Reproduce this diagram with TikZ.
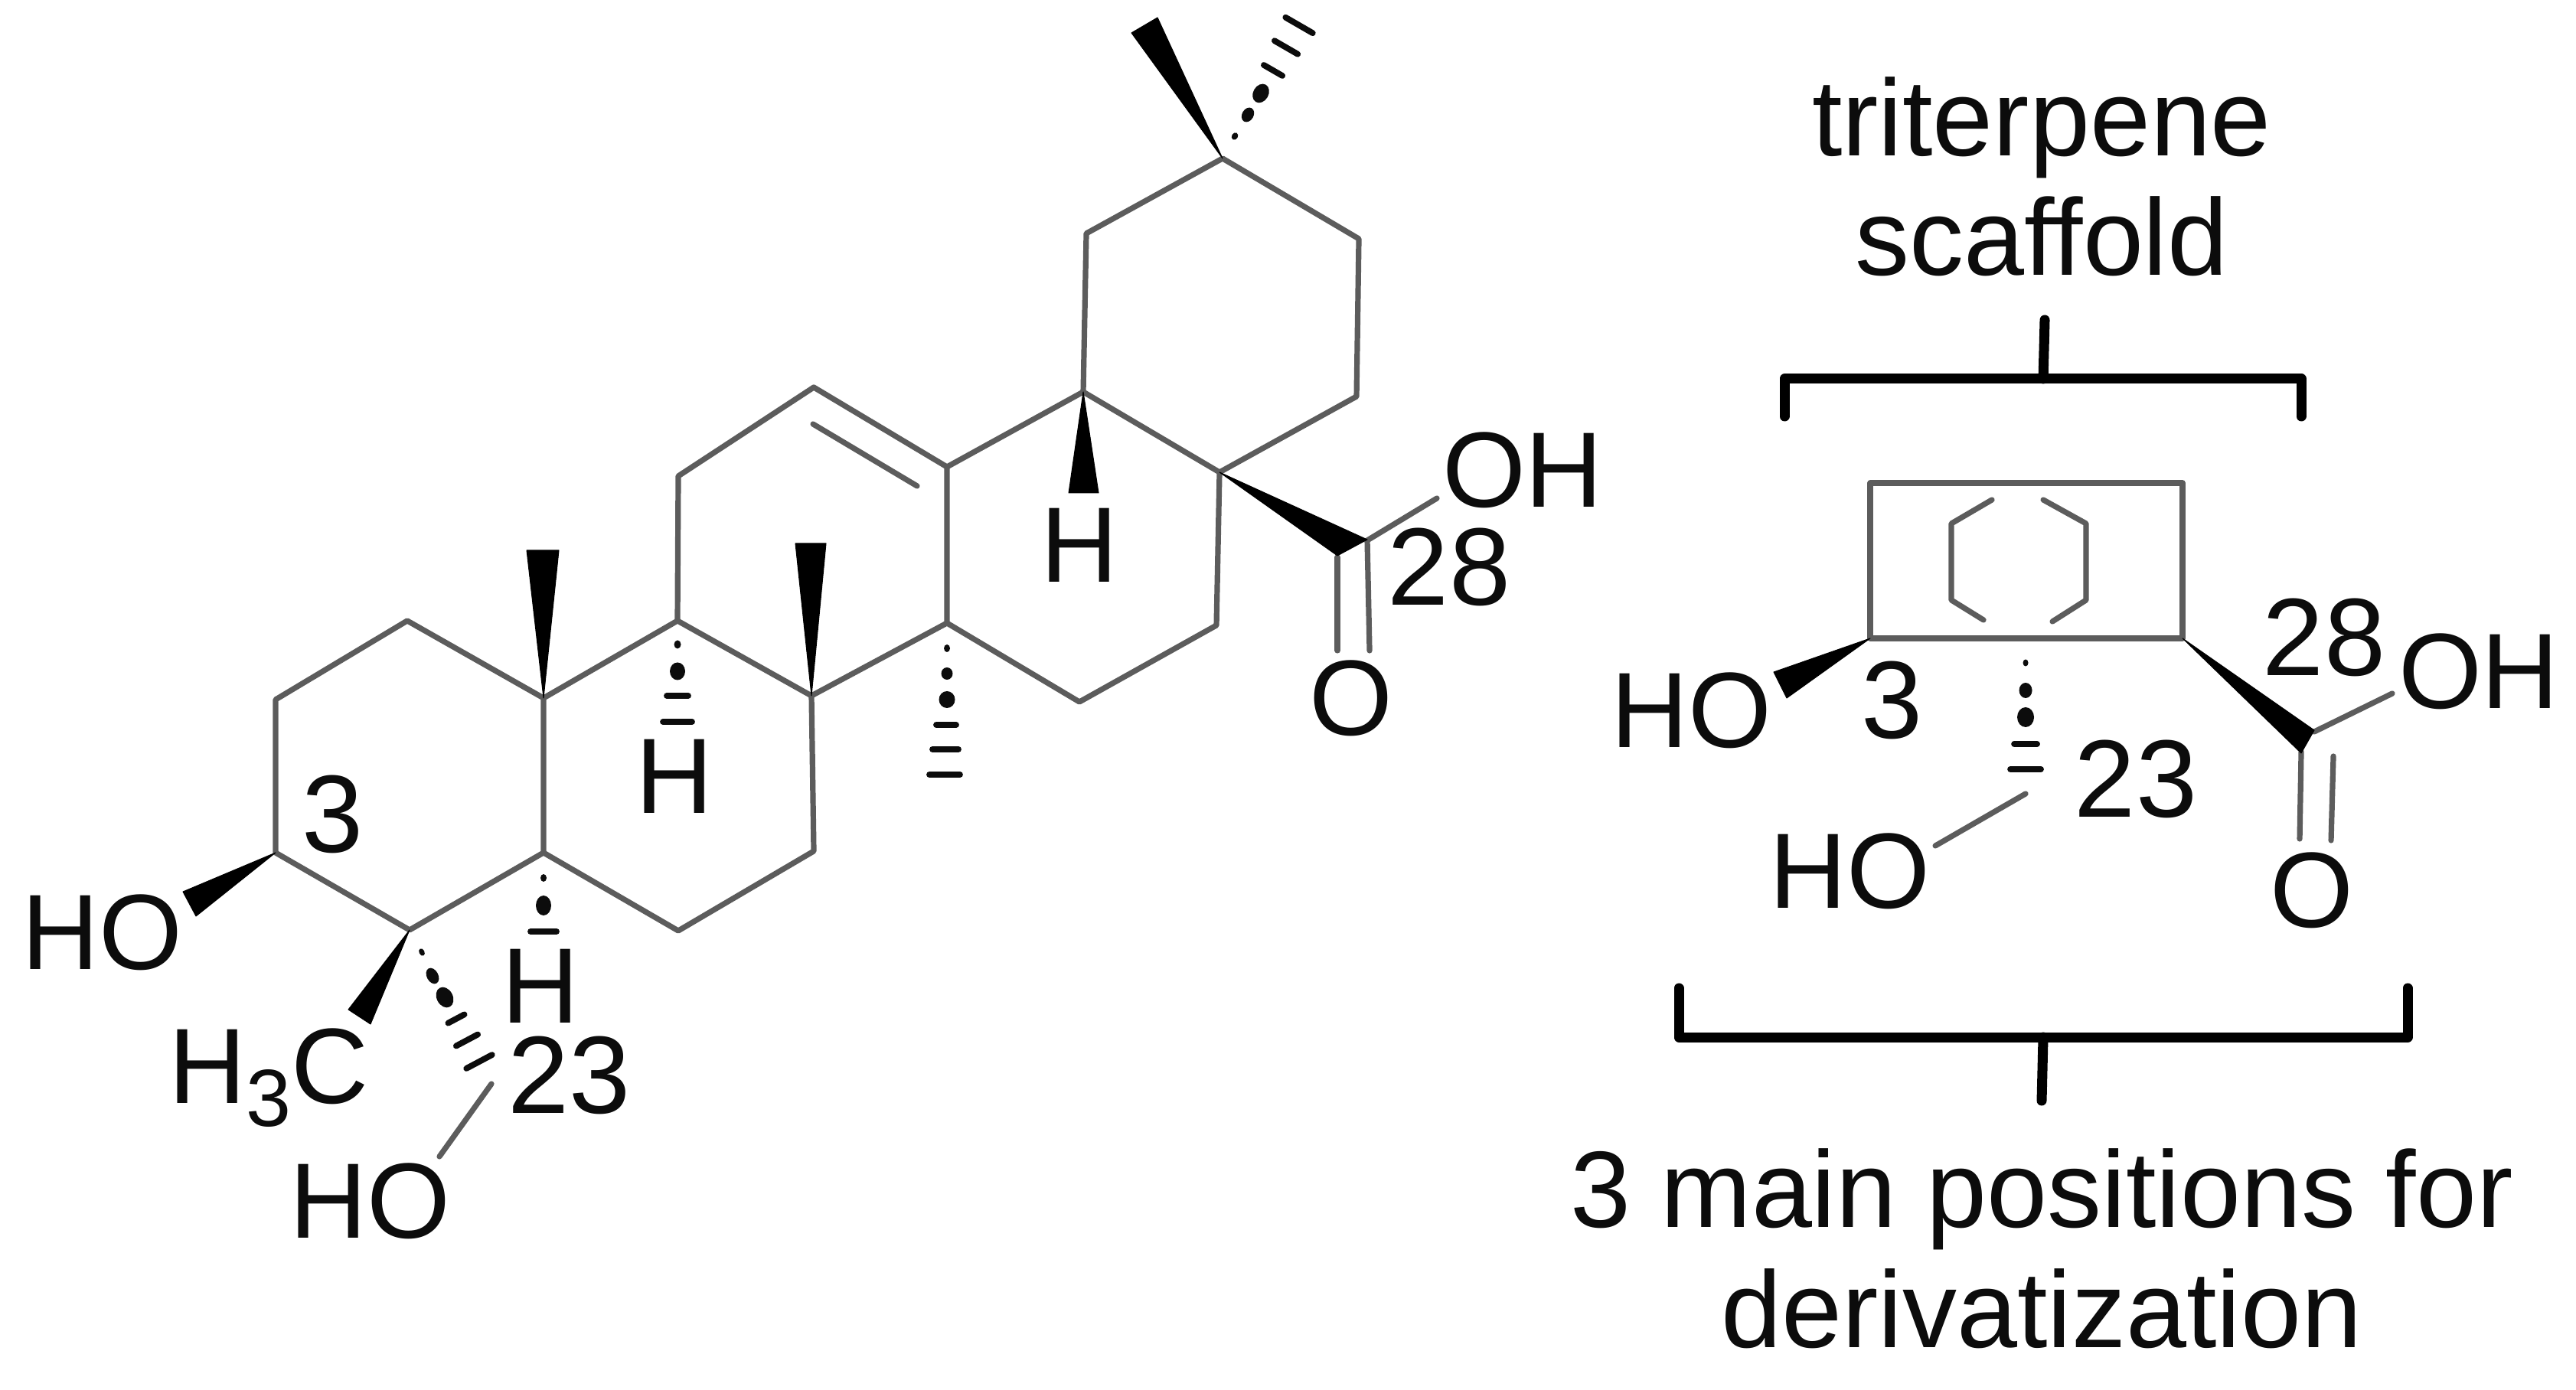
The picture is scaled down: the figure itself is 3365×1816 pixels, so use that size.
\documentclass[tikz,border=0pt]{standalone}
\usepackage{fontspec}
\setmainfont{Liberation Sans}
\definecolor{bondgray}{HTML}{5C5C5C}
\definecolor{inkblack}{HTML}{0C0C0C}
\tikzset{
  bond/.style={draw=bondgray,line width=0.72pt,line join=round,line cap=round},
  wedge/.style={fill=black,draw=black,line width=0.1pt,line join=round},
  hashline/.style={draw=inkblack,line width=0.78pt,line cap=round},
  hashfill/.style={fill=inkblack},
  bracket/.style={draw=black,line width=1.3pt,line join=round,line cap=round},
  atom/.style={inner sep=0pt,outer sep=0pt,anchor=base,text=inkblack,font=\fontsize{14}{16}\selectfont},
  numeral/.style={atom,font=\fontsize{14.4}{16}\selectfont},
  caption/.style={atom,font=\fontsize{14.2}{16}\selectfont},
}
\newcommand\hashdash[4]{\draw[hashline] (#1,#2) +(#3:#4pt) -- +(#3+180:#4pt);}
\newcommand\hashdot[5]{\fill[hashfill,rotate around={#3:(#1,#2)}] (#1,#2) ellipse [x radius=#4pt,y radius=#5pt];}
\begin{document}
\begin{tikzpicture}[x=0.1pt,y=-0.1pt]
\useasboundingbox (0,0) rectangle (3365,1816);
% left skeleton atoms
\coordinate (C1) at (532,811);
\coordinate (C2) at (360,914);
\coordinate (C3) at (360,1114);
\coordinate (C4) at (535,1215);
\coordinate (C5) at (710,1114);
\coordinate (C10) at (710,912);
\coordinate (C6) at (886,1216);
\coordinate (C7) at (1063,1112);
\coordinate (C8) at (1060,909);
\coordinate (C9) at (885,811);
\coordinate (C11) at (886,622);
\coordinate (C12) at (1063,506);
\coordinate (C13) at (1237,610);
\coordinate (C14) at (1237,814);
\coordinate (C15) at (1410,917);
\coordinate (C16) at (1589,817);
\coordinate (C17) at (1593,617);
\coordinate (C18) at (1415,512);
\coordinate (C19) at (1419,305);
\coordinate (C20) at (1597,207);
\coordinate (C21) at (1775,312);
\coordinate (C22) at (1772,518);
\coordinate (C28) at (1786,706);
\coordinate (D1) at (1062,554);
\coordinate (D2) at (1198,635);
\coordinate (C23) at (642,1416);
\coordinate (O23) at (574,1511);
\coordinate (OHe) at (1877,651);
\coordinate (Oa1) at (1747,728);
\coordinate (Oa2) at (1747,850);
\coordinate (Ob2) at (1789,850);
% bonds
\draw[bond] (C1) -- (C2) -- (C3) -- (C4) -- (C5) -- (C10) -- cycle;
\draw[bond] (C5) -- (C6) -- (C7) -- (C8) -- (C9) -- (C10);
\draw[bond] (C9) -- (C11) -- (C12) -- (C13) -- (C14) -- (C8);
\draw[bond] (C14) -- (C15) -- (C16) -- (C17) -- (C18) -- (C13);
\draw[bond] (C18) -- (C19) -- (C20) -- (C21) -- (C22) -- (C17);
\draw[bond] (D1) -- (D2);
\draw[bond] (C23) -- (O23);
\draw[bond] (C28) -- (OHe);
\draw[bond] (C28) -- (Ob2);
\draw[bond] (Oa1) -- (Oa2);
% wedges
\fill[wedge] (C3) -- (239,1165) -- (256,1197) -- cycle;
\fill[wedge] (C4) -- (455,1319) -- (484,1338) -- cycle;
\fill[wedge] (C10) -- (688,719) -- (730,719) -- cycle;
\fill[wedge] (C8) -- (1039,710) -- (1079,710) -- cycle;
\fill[wedge] (C18) -- (1396,644) -- (1435,644) -- cycle;
\fill[wedge] (C17) -- (1747,726) -- (1786,705) -- cycle;
\fill[wedge] (C20) -- (1478,43) -- (1512,23) -- cycle;
% hashes: C4 to C23
\hashdot{551}{1244}{-62}{0.5}{0.35}
\hashdot{565}{1275}{-62}{1.1}{0.75}
\hashdot{581}{1303}{-62}{1.4}{1.05}
\hashdash{596}{1331}{28}{1.2}
\hashdash{610}{1359}{28}{1.6}
\hashdash{626}{1387}{28}{1.9}
% hash: C5 to H
\hashdot{710}{1147}{90}{0.5}{0.4}
\hashdot{710}{1183}{90}{1.3}{1.0}
\hashdash{710}{1217}{0}{1.7}
% hash: C9 to H
\hashdot{885}{842}{90}{0.55}{0.45}
\hashdot{885}{877}{90}{1.15}{1.0}
\hashdash{885}{909}{0}{1.4}
\hashdash{885}{943}{0}{1.9}
% hash: C14 methyl
\hashdot{1237}{847}{90}{0.5}{0.4}
\hashdot{1237}{880}{90}{0.8}{0.75}
\hashdot{1237}{914}{90}{1.1}{1.05}
\hashdash{1236}{947}{0}{1.3}
\hashdash{1235}{979}{0}{1.7}
\hashdash{1234}{1012}{0}{2.0}
% hash: C20 methyl
\hashdot{1613}{178}{60}{0.5}{0.4}
\hashdot{1630}{150}{60}{1.0}{0.75}
\hashdot{1647}{122}{60}{1.3}{1.0}
\hashdash{1663}{92}{-30}{1.4}
\hashdash{1680}{62}{-30}{1.75}
\hashdash{1697}{33}{-30}{2.05}
% left labels
\node[atom] (ho3) at (133,1267) {HO};
\node[numeral] (n3) at (435,1114) {3};
\node[atom] (ch3) at (351,1441) {H\raisebox{-3pt}{\fontsize{10.6}{12}\selectfont 3}C};
\node[atom] (h5) at (706,1336) {H};
\node[numeral] (n23) at (744,1454) {23};
\node[atom] (ho23) at (483,1617) {HO};
\node[atom] (h9) at (881,1063) {H};
\node[atom] (h18) at (1410,761) {H};
\node[atom] (oh28) at (1989,663) {OH};
\node[numeral] (n28) at (1893,791) {28};
\node[atom] (o28) at (1765,961) {O};
% right scaffold atoms
\coordinate (Ra) at (2443,631);
\coordinate (Rb) at (2851,631);
\coordinate (Rc) at (2851,834);
\coordinate (Rd) at (2443,834);
\coordinate (RC23) at (2646,1037);
\coordinate (RO23) at (2528,1105);
\coordinate (RC28) at (3023,956);
\coordinate (ROHe) at (3125,906);
\coordinate (ROa1) at (3006,982);
\coordinate (ROa2) at (3004,1096);
\coordinate (ROb1) at (3048,988);
\coordinate (ROb2) at (3045,1098);
\draw[bond] (Ra) -- (Rb) -- (Rc) -- (Rd) -- cycle;
\draw[bond] (2602,653) -- (2549,684) -- (2549,784) -- (2591,810);
\draw[bond] (2669,653) -- (2725,684) -- (2725,784) -- (2681,812);
\draw[bond] (RC23) -- (RO23);
\draw[bond] (RC28) -- (ROHe);
\draw[bond] (ROa1) -- (ROa2);
\draw[bond] (ROb1) -- (ROb2);
\fill[wedge] (Rd) -- (2317,878) -- (2334,912) -- cycle;
\fill[wedge] (Rc) -- (3023,954) -- (3006,984) -- cycle;
\hashdot{2646}{866}{90}{0.45}{0.35}
\hashdot{2646}{902}{90}{1.0}{0.85}
\hashdot{2646}{937}{90}{1.3}{1.1}
\hashdash{2646}{972}{0}{1.5}
\hashdash{2646}{1005}{0}{2.0}
\node[atom] (rho3) at (2209,977) {HO};
\node[numeral] (rn3) at (2471,965) {3};
\node[atom] (rho23) at (2416,1186) {HO};
\node[numeral] (rn23) at (2790,1068) {23};
\node[numeral] (rn28) at (3036,883) {28};
\node[atom] (roh) at (3238,926) {OH};
\node[atom] (ro) at (3020,1212) {O};
% brackets
\coordinate (Ta) at (2331,544);
\coordinate (Tb) at (2331,495);
\coordinate (Tc) at (3006,495);
\coordinate (Td) at (3006,544);
\coordinate (Te) at (2669,495);
\coordinate (Tf) at (2671,418);
\coordinate (Ba) at (2193,1291);
\coordinate (Bb) at (2193,1355);
\coordinate (Bc) at (3145,1355);
\coordinate (Bd) at (3145,1291);
\coordinate (Be) at (2669,1355);
\coordinate (Bf) at (2667,1438);
\draw[bracket] (Ta) -- (Tb) -- (Tc) -- (Td);
\draw[bracket] (Te) -- (Tf);
\draw[bracket] (Ba) -- (Bb) -- (Bc) -- (Bd);
\draw[bracket] (Be) -- (Bf);
% captions
\node[caption] (t1) at (2667,204) {triterpene};
\node[caption] (t2) at (2667,360) {scaffold};
\node[caption] (t3) at (2667,1603) {3 main positions for};
\node[caption] (t4) at (2667,1760) {derivatization};
\end{tikzpicture}
\end{document}
